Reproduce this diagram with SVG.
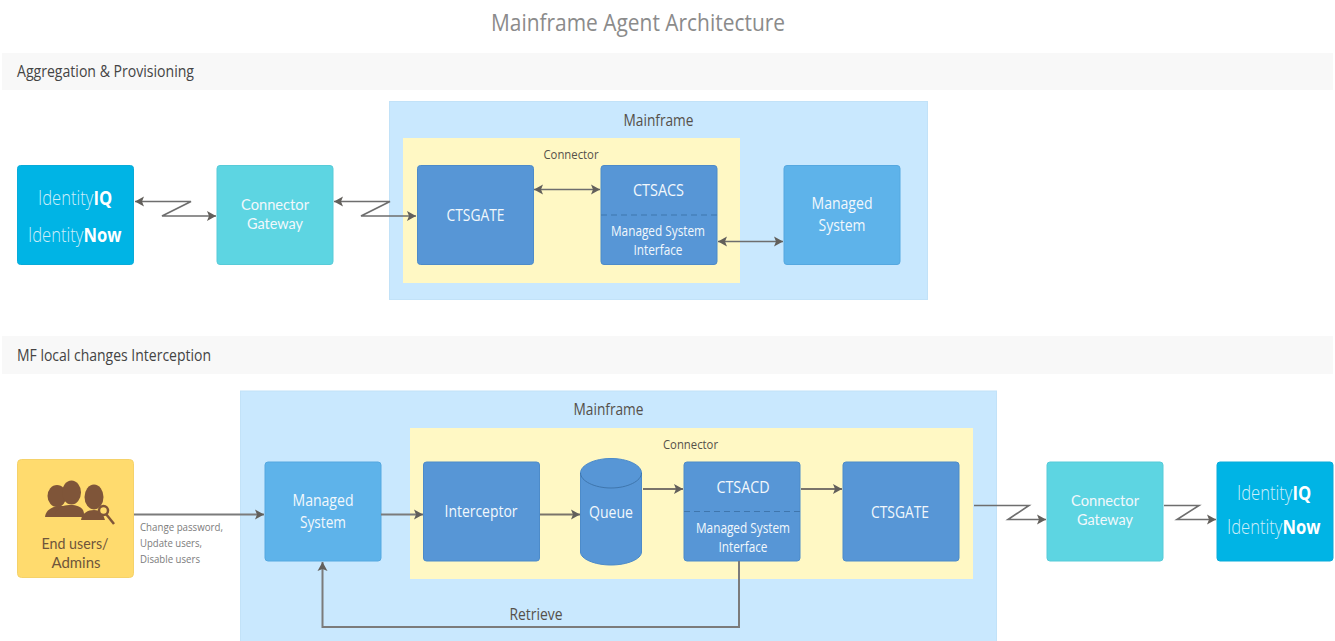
<svg xmlns="http://www.w3.org/2000/svg" width="1335" height="641" viewBox="0 0 1335 641">
<style>
text{font-family:"Open Sans","Noto Sans","Liberation Sans",sans-serif;text-anchor:middle}
.w{fill:#f2f8fc;font-size:16px}
.t{font-family:Lato,"Open Sans",sans-serif;font-size:15.500px}
.s{fill:#f2f8fc;font-size:14px}
.d{fill:#55504a;font-size:16px}
.u{fill:#6f553b}
.band{fill:#f8f8f8}
.h{fill:#444;font-size:16px;text-anchor:start}
.mf{fill:#c9e8fe;stroke:#c2e2f8;stroke-width:1}
.cn{fill:#fff8c4}
.b{fill:#5796d6;stroke:#4d8bc9;stroke-width:1}
.m{fill:#5eb3ea;stroke:#55a8e0;stroke-width:1}
.g{fill:#5dd5e2;stroke:#57cbd8;stroke-width:1}
.i{fill:#00b4e5;stroke:#08abd9;stroke-width:1}
.l{fill:#cdeefa;font-size:20px;font-weight:300;text-anchor:start}
.lb{fill:#fff;font-weight:700}
.c{fill:none;stroke:#6e6e6e;stroke-width:1.600}
.e{fill:none;stroke:#7b7b7b;stroke-width:2}
.a{fill:none;stroke:#7a746a;stroke-width:2}
.dash{stroke:#3f76ad;stroke-width:1;stroke-dasharray:6 4}
.n{font-size:11px;fill:#7c7c7c;text-anchor:start}
</style>
<defs>
<marker id="ah" markerWidth="10" markerHeight="11" refX="9" refY="5.500" orient="auto-start-reverse" markerUnits="userSpaceOnUse"><path d="M0 0.500L9 5.500L0 10.500L2 5.500Z" fill="#625f5b"/></marker>
</defs>
<text x="638" y="31" textLength="294" lengthAdjust="spacingAndGlyphs" style="font-size:24px;fill:#8b8b8b">Mainframe Agent Architecture</text>
<rect class="band" x="2" y="53" width="1331" height="37"/>
<text class="h" x="17" y="77" textLength="177" lengthAdjust="spacingAndGlyphs">Aggregation &amp; Provisioning</text>
<rect class="band" x="2" y="336" width="1331" height="38"/>
<text class="h" x="17" y="361" textLength="194" lengthAdjust="spacingAndGlyphs">MF local changes Interception</text>

<g id="mainframe-top"><rect class="mf" x="389.500" y="101.500" width="538" height="198"/><text x="658.500" y="126" textLength="70" lengthAdjust="spacingAndGlyphs" class="d">Mainframe</text></g>
<g id="connector-top"><rect class="cn" x="403" y="138" width="337" height="145"/><text x="571" y="159" textLength="55" lengthAdjust="spacingAndGlyphs" class="d" style="font-size:13px">Connector</text></g>
<g id="mainframe-bottom"><rect class="mf" x="240.500" y="391" width="756" height="251"/><text x="608.500" y="415" textLength="70" lengthAdjust="spacingAndGlyphs" class="d">Mainframe</text></g>
<g id="connector-bottom"><rect class="cn" x="410" y="428" width="563" height="151"/><text x="690.500" y="449" textLength="55" lengthAdjust="spacingAndGlyphs" class="d" style="font-size:13px">Connector</text></g>

<g id="identity-top"><rect class="i" x="17.500" y="165.500" width="116" height="99" rx="3"/>
<text class="l" transform="translate(38 205) scale(.83 1)">Identity<tspan class="lb">IQ</tspan></text>
<text class="l" transform="translate(28 242) scale(.83 1)">Identity<tspan class="lb">Now</tspan></text></g>
<g id="gateway-top"><rect class="g" x="217" y="165.500" width="116" height="99" rx="3"/>
<text class="w t" x="275" y="210" textLength="68" lengthAdjust="spacingAndGlyphs">Connector</text><text class="w t" x="275" y="229" textLength="56" lengthAdjust="spacingAndGlyphs">Gateway</text></g>
<g id="ctsgate-top"><rect class="b" x="417.500" y="165.500" width="116" height="99" rx="3"/>
<text class="w" x="475.500" y="221" textLength="58" lengthAdjust="spacingAndGlyphs">CTSGATE</text></g>
<g id="ctsacs"><rect class="b" x="601" y="165.500" width="116" height="99" rx="3"/>
<line class="dash" x1="601" y1="215" x2="717" y2="215"/>
<text class="w" x="658.500" y="196" textLength="51" lengthAdjust="spacingAndGlyphs">CTSACS</text>
<text class="s" x="658" y="236" textLength="94" lengthAdjust="spacingAndGlyphs">Managed System</text>
<text class="s" x="658" y="255" textLength="49" lengthAdjust="spacingAndGlyphs">Interface</text></g>
<g id="managed-top"><rect class="m" x="784" y="165.500" width="116" height="99" rx="3"/>
<text class="w" x="842" y="209" textLength="61" lengthAdjust="spacingAndGlyphs">Managed</text><text class="w" x="842" y="231" textLength="47" lengthAdjust="spacingAndGlyphs">System</text></g>

<g id="end-users"><rect x="17.500" y="459.500" width="116" height="118" rx="4" fill="#ffdb6e" stroke="#f5d26a"/>
<g fill="#7f5539">
<ellipse cx="57" cy="496" rx="9.500" ry="11"/><path d="M45 517c1-8 8-10 13-11l8 0v11Z"/>
<ellipse cx="71.500" cy="492.500" rx="9.500" ry="12"/><path d="M55 514c2-7 9-9 16-9s13 3 13 9v3H55Z"/>
<ellipse cx="94" cy="497" rx="9.500" ry="12.500"/><path d="M81 520c1-7 7-10 13-10 3 0 6 1 8 2l3 8Z"/>
<circle cx="103.500" cy="510.500" r="4.500" fill="#ffdb6e" stroke="#7f5539" stroke-width="2.500"/>
<line x1="106" y1="514" x2="114" y2="524" stroke="#7f5539" stroke-width="2.500"/>
</g>
<text class="u t" x="75" y="549" textLength="67" lengthAdjust="spacingAndGlyphs">End users/</text><text class="u t" x="76" y="568" textLength="49" lengthAdjust="spacingAndGlyphs">Admins</text></g>
<g id="managed-bottom"><rect class="m" x="265" y="462" width="116" height="99" rx="3"/>
<text class="w" x="323" y="506" textLength="61" lengthAdjust="spacingAndGlyphs">Managed</text><text class="w" x="323" y="528" textLength="46" lengthAdjust="spacingAndGlyphs">System</text></g>
<g id="interceptor"><rect class="b" x="423.500" y="462" width="116" height="99" rx="3"/>
<text class="w" x="481" y="517" textLength="73" lengthAdjust="spacingAndGlyphs">Interceptor</text></g>
<g id="queue"><path d="M580.500 473c0-8 14-14.500 30.500-14.500s30.500 6.500 30.500 14.500v79c0 7-14 13-30.500 13s-30.500-6-30.500-13Z" class="b"/>
<path d="M580.500 473c0 8 14 15 30.500 15s30.500-7 30.500-15" fill="none" stroke="#3f76ad"/>
<text class="w" x="611" y="518" textLength="44" lengthAdjust="spacingAndGlyphs">Queue</text></g>
<g id="ctsacd"><rect class="b" x="684" y="462" width="116" height="99" rx="3"/>
<line class="dash" x1="684" y1="511.500" x2="800" y2="511.500"/>
<text class="w" x="743" y="493" textLength="53" lengthAdjust="spacingAndGlyphs">CTSACD</text>
<text class="s" x="743" y="533" textLength="94" lengthAdjust="spacingAndGlyphs">Managed System</text>
<text class="s" x="743" y="552" textLength="49" lengthAdjust="spacingAndGlyphs">Interface</text></g>
<g id="ctsgate-bottom"><rect class="b" x="843" y="462" width="116" height="99" rx="3"/>
<text class="w" x="900" y="518" textLength="58" lengthAdjust="spacingAndGlyphs">CTSGATE</text></g>
<g id="gateway-bottom"><rect class="g" x="1047" y="462" width="116" height="99" rx="3"/>
<text class="w t" x="1105" y="506" textLength="68" lengthAdjust="spacingAndGlyphs">Connector</text><text class="w t" x="1105" y="525" textLength="56" lengthAdjust="spacingAndGlyphs">Gateway</text></g>
<g id="identity-bottom"><rect class="i" x="1217" y="462" width="116" height="99" rx="3"/>
<text class="l" transform="translate(1237 500) scale(.83 1)">Identity<tspan class="lb">IQ</tspan></text>
<text class="l" transform="translate(1227 534) scale(.83 1)">Identity<tspan class="lb">Now</tspan></text></g>

<g id="connectors">
<path class="c" marker-start="url(#ah)" marker-end="url(#ah)" d="M135 201.500H191L162 216H216"/>
<path class="c" marker-start="url(#ah)" marker-end="url(#ah)" d="M334 201.500H390L361 216H416"/>
<path class="c" marker-start="url(#ah)" marker-end="url(#ah)" d="M534 189.500H600"/>
<path class="c" marker-start="url(#ah)" marker-end="url(#ah)" d="M718 241.500H783"/>
<path class="e" marker-end="url(#ah)" d="M134 514.500H264"/>
<path class="e" marker-end="url(#ah)" d="M381 514.500H423"/>
<path class="a" marker-end="url(#ah)" d="M540 514.500H580"/>
<path class="a" marker-end="url(#ah)" d="M643 489H683"/>
<path class="a" marker-end="url(#ah)" d="M801 489H842"/>
<path class="c" marker-end="url(#ah)" d="M974 505.500H1029L1008 519.500H1046"/>
<path class="c" marker-end="url(#ah)" d="M1164 505.500H1199L1177 519.500H1216"/>
<path class="e" marker-end="url(#ah)" d="M739 561V627H322.500V562"/>
</g>
<text class="n" x="140" y="531" textLength="83" lengthAdjust="spacingAndGlyphs">Change password,</text>
<text class="n" x="140" y="547" textLength="62" lengthAdjust="spacingAndGlyphs">Update users,</text>
<text class="n" x="140" y="563" textLength="60" lengthAdjust="spacingAndGlyphs">Disable users</text>
<text x="536" y="620" textLength="53" lengthAdjust="spacingAndGlyphs" class="d">Retrieve</text>
</svg>
